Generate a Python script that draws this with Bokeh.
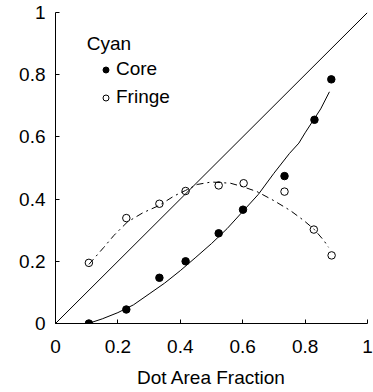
from bokeh.plotting import figure
from bokeh.models import Range1d, FixedTicker, Legend, LegendItem, Label
from bokeh.embed import file_html
from bokeh.resources import INLINE

# ---- data ----
core_x = [0.107, 0.227, 0.333, 0.417, 0.523, 0.601, 0.734, 0.830, 0.884]
core_y = [0.0, 0.045, 0.147, 0.200, 0.290, 0.366, 0.474, 0.655, 0.785]

fringe_x = [0.107, 0.227, 0.333, 0.417, 0.523, 0.603, 0.734, 0.828, 0.885]
fringe_y = [0.195, 0.339, 0.385, 0.426, 0.444, 0.451, 0.424, 0.302, 0.219]

core_fit_x = [0.105, 0.15, 0.2, 0.25, 0.3, 0.35, 0.4, 0.45, 0.5, 0.55, 0.6, 0.65, 0.7, 0.75, 0.78, 0.8, 0.85, 0.878]
core_fit_y = [0.0, 0.015, 0.035, 0.06, 0.095, 0.13, 0.17, 0.213, 0.257, 0.305, 0.36, 0.415, 0.483, 0.547, 0.58, 0.613, 0.69, 0.745]

fringe_fit_x = [0.107, 0.155, 0.187, 0.23, 0.28, 0.331, 0.38, 0.417, 0.454, 0.5, 0.561, 0.6, 0.646, 0.7, 0.753, 0.796, 0.83, 0.86, 0.875]
fringe_fit_y = [0.19, 0.245, 0.283, 0.326, 0.356, 0.379, 0.41, 0.428, 0.447, 0.455, 0.451, 0.44, 0.424, 0.395, 0.363, 0.331, 0.302, 0.267, 0.245]

diag_x = [0, 1]
diag_y = [0, 1]

tick_values = [0, 0.2, 0.4, 0.6, 0.8, 1]
tick_labels = ["0", "0.2", "0.4", "0.6", "0.8", "1"]

FONT = "Liberation Sans"
FS = "19px"

p = figure(width=373, height=392, output_backend="svg", toolbar_location=None,
           x_range=Range1d(0, 1), y_range=Range1d(0, 1),
           min_border_left=55, min_border_right=6, min_border_top=12, min_border_bottom=69)
p.outline_line_color = None
p.grid.visible = False
p.background_fill_color = "white"
p.border_fill_color = "white"

for ax in (p.xaxis[0], p.yaxis[0]):
    ax.ticker = FixedTicker(ticks=tick_values)
    ax.major_label_overrides = {v: l for v, l in zip(tick_values, tick_labels)}
    ax.major_tick_in = 4
    ax.major_tick_out = 0
    ax.minor_tick_line_color = None
    ax.axis_line_color = "black"
    ax.major_tick_line_color = "black"
    ax.major_label_text_font = FONT
    ax.major_label_text_font_size = FS
    ax.major_label_text_color = "black"

p.yaxis.major_label_standoff = 10
p.xaxis.major_label_standoff = 16
p.xaxis.axis_label = "Dot Area Fraction"
p.xaxis.axis_label_text_font = FONT
p.xaxis.axis_label_text_font_size = FS
p.xaxis.axis_label_text_font_style = "normal"
p.xaxis.axis_label_text_color = "black"
p.xaxis.axis_label_standoff = 11

p.line(diag_x, diag_y, line_color="black", line_width=1)
p.line(core_fit_x, core_fit_y, line_color="black", line_width=1)
p.line(fringe_fit_x, fringe_fit_y, line_color="black", line_width=1, line_dash="7 4 2 4")

r_core = p.scatter(core_x, core_y, size=7.5, marker="circle", fill_color="black", line_color="black")
r_fringe = p.scatter(fringe_x, fringe_y, size=7.5, marker="circle", fill_alpha=0,
                     line_color="black", line_width=1)

legend = Legend(items=[LegendItem(label="Core", renderers=[r_core]),
                       LegendItem(label="Fringe", renderers=[r_fringe])],
                location=(43, 215), orientation="vertical",
                glyph_width=15, glyph_height=15, label_standoff=3,
                label_height=20, spacing=6, padding=0, margin=0,
                border_line_color=None, background_fill_alpha=0,
                label_text_font=FONT, label_text_font_size=FS, label_text_color="black")
p.add_layout(legend)

title = Label(x=0.1, y=0.9, text="Cyan", text_font=FONT, text_font_size=FS,
              text_baseline="middle", text_align="left", text_color="black")
p.add_layout(title)

open("out.html", "w").write(file_html(p, INLINE))
